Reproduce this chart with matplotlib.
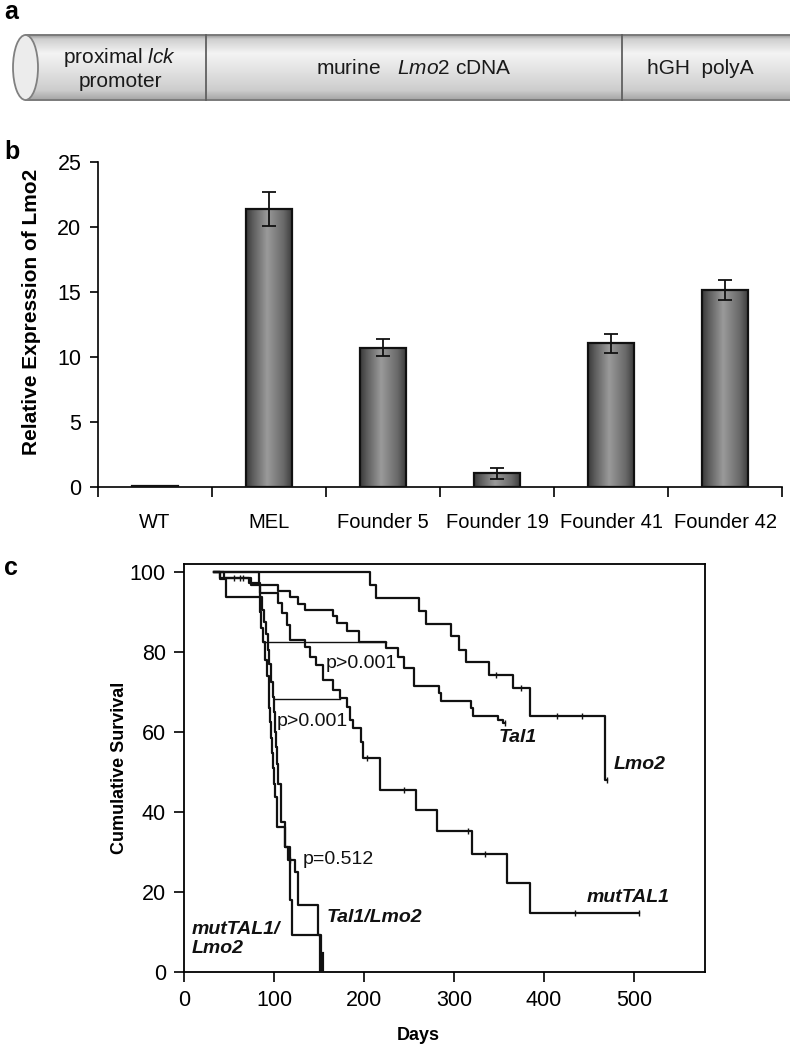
import numpy as np
import matplotlib
matplotlib.use('Agg')
import matplotlib.pyplot as plt
from matplotlib import font_manager
from matplotlib.colors import LinearSegmentedColormap
from matplotlib.patches import Rectangle, Ellipse

# ---------------- data ----------------
# Panel a (construct schematic)
segment_labels = ['proximal $\\it{lck}$\npromoter', 'murine   $\\it{Lmo2}$ cDNA', 'hGH  polyA']
segment_edges = [25.5, 206, 622, 800]

# Panel b
categories = ['WT', 'MEL', 'Founder 5', 'Founder 19', 'Founder 41', 'Founder 42']
expression = [0.05, 21.4, 10.7, 1.05, 11.05, 15.15]
expression_err = [0.0, 1.3, 0.65, 0.4, 0.75, 0.75]

# Panel c (Kaplan-Meier step curves; last point = end of follow-up)
lmo2_days = [33, 207, 213, 261, 269, 297, 306, 313, 339, 366, 385, 468, 470]
lmo2_surv = [100, 96.8, 93.5, 90.3, 87.1, 83.9, 80.6, 77.4, 74.2, 71.0, 64.0, 48.0, 48.0]
lmo2_censor = [347, 375, 414, 442, 470]

tal1_days = [33, 44, 75, 105, 118, 127, 134, 166, 170, 181, 195, 225, 238, 244, 256,
             283, 286, 319, 321, 349, 355, 357]
tal1_surv = [100, 98.4, 96.8, 95.2, 93.7, 92.1, 90.5, 88.9, 87.3, 85.2, 82.6, 80.9, 78.8,
             75.9, 71.5, 69.7, 67.8, 65.9, 64.0, 63.0, 62.2, 62.2]
tal1_censor = [56, 62, 66, 357]

mut_days = [33, 40, 72, 84, 104, 109, 114, 118, 134, 140, 147, 155, 166, 173, 181, 184,
            188, 197, 199, 218, 258, 281, 320, 359, 384, 506]
mut_surv = [100, 98.6, 97.2, 94.7, 92.2, 89.7, 86.8, 83.0, 81.2, 78.8, 76.8, 73.0, 70.5,
            68.4, 66.3, 63.0, 60.9, 57.5, 53.4, 45.5, 40.5, 35.3, 29.5, 22.2, 14.7, 14.7]
mut_censor = [203, 244, 316, 335, 435, 506]

tl_days = [35, 83, 85, 87, 89, 91, 93, 95, 97, 99, 100, 101, 102, 103, 104, 108, 112,
           116, 123, 127, 149, 152, 153]
tl_surv = [100, 96.9, 93.8, 90.6, 87.5, 84.4, 80.6, 77.0, 72.5, 68.8, 65.0, 60.0, 56.3,
           52.0, 47.0, 37.5, 31.3, 28.1, 25.0, 16.8, 9.3, 4.5, 0]
tl_censor = [118]

ml_days = [33, 40, 47, 84, 86, 88, 90, 92, 94, 95, 96, 97, 98, 99, 100, 101, 103, 112,
           118, 120, 151]
ml_surv = [100, 98.3, 93.7, 90.0, 86.0, 82.6, 78.0, 74.0, 70.0, 66.0, 62.5, 58.5, 54.7,
           51.0, 47.0, 43.8, 36.3, 31.3, 18.0, 9.3, 0]

bracket_start = [88, 101]
bracket_end = [225, 173]
bracket_level = [82.6, 68.3]

p_labels = ['p>0.001', 'p>0.001', 'p=0.512']
p_x = [157, 103, 132]
p_y = [77, 62.7, 28]

curve_labels = ['Tal1', 'Lmo2', 'mutTAL1', 'Tal1/Lmo2', 'mutTAL1/\nLmo2']
curve_label_x = [350, 478, 447, 159, 8]
curve_label_y = [58.5, 51.8, 18.7, 13.7, 8.3]

# ---------------- fonts ----------------
names = {f.name for f in font_manager.fontManager.ttflist}
NARROW = 'Liberation Sans Narrow' if 'Liberation Sans Narrow' in names else 'Liberation Sans'
SANS = 'Liberation Sans'
plt.rcParams['font.family'] = [SANS, 'DejaVu Sans']
plt.rcParams['mathtext.fontset'] = 'custom'
plt.rcParams['mathtext.rm'] = NARROW
plt.rcParams['mathtext.it'] = NARROW + ':italic'

W, H = 790, 1050
fig = plt.figure(figsize=(W / 100, H / 100), dpi=100)


def rect(l, t, r, b):
    return [l / W, 1 - b / H, (r - l) / W, (b - t) / H]


# ---------------- panel a ----------------
ax_a = fig.add_axes(rect(0, 0, 790, 120))
ax_a.set_xlim(0, 790)
ax_a.set_ylim(120, 0)
ax_a.axis('off')
top, bot = 35, 100
cyl_cmap = LinearSegmentedColormap.from_list(
    'cyl', [(0, '#9a9a9a'), (0.06, '#cfcfcf'), (0.28, '#f4f4f4'), (0.55, '#e2e2e2'),
            (0.85, '#cdcdcd'), (1.0, '#a5a5a5')])
grad = np.linspace(0, 1, 200).reshape(-1, 1)
body = Rectangle((segment_edges[0], top), segment_edges[-1] - segment_edges[0], bot - top,
                 facecolor='none', edgecolor='none')
ax_a.add_patch(body)
im = ax_a.imshow(grad, extent=[segment_edges[0], segment_edges[-1], bot, top], cmap=cyl_cmap,
                 aspect='auto', zorder=1)
im.set_clip_path(body)
ax_a.plot([segment_edges[0], segment_edges[-1]], [top, top], color='#7a7a7a', lw=1.4, zorder=3)
ax_a.plot([segment_edges[0], segment_edges[-1]], [bot, bot], color='#7a7a7a', lw=1.4, zorder=3)
for e in segment_edges[1:-1]:
    ax_a.plot([e, e], [top, bot], color='#606060', lw=1.3, zorder=3)
cap = Ellipse((segment_edges[0], (top + bot) / 2), 25, bot - top, facecolor='#ececec',
              edgecolor='#808080', lw=1.3, zorder=4)
ax_a.add_patch(cap)
for i, lab in enumerate(segment_labels):
    cx = (segment_edges[i] + segment_edges[i + 1]) / 2
    if i == 0:
        cx = 120
    if i == 2:
        cx = 700
    ax_a.text(cx, (top + bot) / 2 + 1, lab, ha='center', va='center', fontsize=15,
              family=NARROW, color='#1a1a1a', linespacing=1.15, zorder=5)

fig.text(4 / W, 1 - 12 / H, 'a', fontsize=18, fontweight='bold', va='center', ha='left')
fig.text(4 / W, 1 - 152 / H, 'b', fontsize=18, fontweight='bold', va='center', ha='left')
fig.text(4 / W, 1 - 568 / H, 'c', fontsize=18, fontweight='bold', va='center', ha='left')

# ---------------- panel b ----------------
ax_b = fig.add_axes(rect(98, 162, 782, 487))
xpos = np.arange(len(categories))
bars = ax_b.bar(xpos, expression, width=0.41, facecolor='none', edgecolor='#111111',
                lw=1.6, zorder=3)
bar_cmap = LinearSegmentedColormap.from_list(
    'bar', [(0, '#3a3a3a'), (0.15, '#5e5e5e'), (0.45, '#9a9a9a'), (0.8, '#6a6a6a'),
            (1.0, '#3a3a3a')])
hgrad = np.linspace(0, 1, 100).reshape(1, -1)
for b in bars:
    x0, w, h = b.get_x(), b.get_width(), b.get_height()
    im = ax_b.imshow(hgrad, extent=[x0, x0 + w, 0, h], cmap=bar_cmap, aspect='auto', zorder=2)
    im.set_clip_path(b)
ax_b.errorbar(xpos, expression, yerr=expression_err, fmt='none', ecolor='#111111',
              elinewidth=1.3, capsize=5, capthick=1.3, zorder=4)
ax_b.set_xlim(-0.5, len(categories) - 0.5)
ax_b.set_ylim(0, 25)
ax_b.set_yticks([0, 5, 10, 15, 20, 25])
ax_b.set_xticks(xpos)
ax_b.set_xticklabels(categories, family=NARROW, fontsize=14.5)
ax_b.set_xticks(np.arange(-0.5, len(categories)), minor=True)
ax_b.tick_params(axis='x', which='major', length=0, pad=19)
ax_b.tick_params(axis='x', which='minor', length=7, width=1.2, direction='out')
ax_b.tick_params(axis='y', length=6, width=1.2, direction='out', pad=6)
for t in ax_b.get_yticklabels():
    t.set_family(NARROW)
    t.set_fontsize(15.5)
for s in ['top', 'right']:
    ax_b.spines[s].set_visible(False)
for s in ['left', 'bottom']:
    ax_b.spines[s].set_linewidth(1.2)
ax_b.set_ylabel('Relative Expression of Lmo2', fontsize=15, fontweight='bold')
ax_b.yaxis.set_label_coords(-0.083, 0.54)
ax_b.patch.set_alpha(0)

# ---------------- panel c ----------------
ax_c = fig.add_axes(rect(184, 564, 705, 972))


def surv_at(days, surv, t):
    idx = np.searchsorted(days, t, side='right') - 1
    return np.asarray(surv)[idx]


curves = [(lmo2_days, lmo2_surv, lmo2_censor), (tal1_days, tal1_surv, tal1_censor),
          (mut_days, mut_surv, mut_censor), (tl_days, tl_surv, tl_censor),
          (ml_days, ml_surv, [])]
for d, s, c in curves:
    ax_c.step(d, s, where='post', color='#111111', lw=1.6, zorder=3)
    if c:
        ax_c.plot(c, surv_at(d, s, c), ls='none', marker='|', ms=5, mew=1.0,
                  color='#111111', zorder=3)
# final thick drop of Tal1/Lmo2
ax_c.plot([tl_days[-1], tl_days[-1]], [tl_surv[-2], 0], color='#111111', lw=3, zorder=3)

for x0, x1, yv in zip(bracket_start, bracket_end, bracket_level):
    ax_c.plot([x0, x1], [yv, yv], color='#111111', lw=1.0, zorder=2)
for lab, x, y in zip(p_labels, p_x, p_y):
    ax_c.text(x, y, lab, fontsize=14, ha='left', va='center', color='#111111', zorder=4)
for lab, x, y in zip(curve_labels, curve_label_x, curve_label_y):
    ax_c.text(x, y, lab, fontsize=14, fontweight='bold', fontstyle='italic', ha='left',
              va='center', color='#111111', linespacing=1.2, zorder=4)

ax_c.set_xlim(0, 579)
ax_c.set_ylim(0, 102)
ax_c.set_xticks([0, 100, 200, 300, 400, 500])
ax_c.set_yticks([0, 20, 40, 60, 80, 100])
ax_c.tick_params(length=7, width=1.2, direction='out', pad=6)
for t in ax_c.get_xticklabels() + ax_c.get_yticklabels():
    t.set_family(NARROW)
    t.set_fontsize(15.5)
for s in ax_c.spines.values():
    s.set_linewidth(1.3)
ax_c.set_ylabel('Cumulative Survival', fontsize=13, fontweight='bold')
ax_c.yaxis.set_label_coords(-0.107, 0.5)
ax_c.set_xlabel('Days', fontsize=13, fontweight='bold')
ax_c.xaxis.set_label_coords(0.449, -0.135)

fig.savefig('out.png', dpi=100)
